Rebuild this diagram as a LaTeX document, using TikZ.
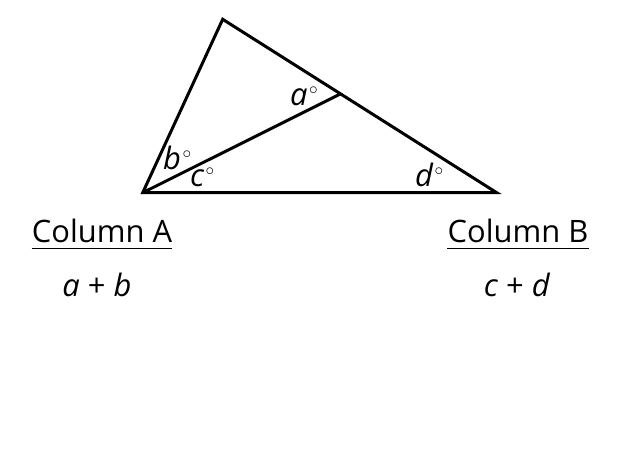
\documentclass[tikz,border=0pt]{standalone}
\usepackage{fontspec}
\setmainfont{Open Sans}
\usetikzlibrary{calc,positioning}

\newcommand{\dg}{\kern0.05em\raisebox{0.36em}{\fontsize{17}{17}\selectfont\upshape$\circ$}}

\begin{document}
\begin{tikzpicture}[x=1bp, y=-1bp,
  side/.style={line width=3bp, line join=miter},
  ang/.style={font=\fontsize{31}{36}\selectfont\itshape, inner sep=0pt, anchor=base west},
  col/.style={font=\fontsize{31}{36}\selectfont, inner sep=0pt, anchor=base},
  expr/.style={font=\fontsize{31}{36}\selectfont, inner sep=0pt, anchor=base},
  uline/.style={line width=1.6bp}
]
\useasboundingbox (0,0) rectangle (620,464);

%--- Triangle ---
\coordinate (L) at (142.7,192.7);
\coordinate (T) at (222.7,19.3);
\coordinate (R) at (496.7,192.7);
\coordinate (M) at ($(T)!0.43!(R)$);
\draw[side] (L) -- (T) -- (R) -- cycle;
\draw[side] (L) -- (M);

%--- Angle labels ---
\node[ang] (angA) at (290,106) {a\dg};
\node[ang] (angB) at (163,170) {b\dg};
\node[ang] (angC) at (190,187) {c\dg};
\node[ang] (angD) at (415,187) {d\dg};

%--- Columns ---
\node[col] (colA) at (102,243) {Column A};
\draw[uline] ([yshift=-5bp]colA.south west) -- ([yshift=-5bp]colA.south east);
\node[expr] (sumA) at (97,297) {\textit{a} + \textit{b}};

\node[col] (colB) at (518,243) {Column B};
\draw[uline] ([yshift=-5bp]colB.south west) -- ([yshift=-5bp]colB.south east);
\node[expr] (sumB) at (517,297) {\textit{c} + \textit{d}};
\end{tikzpicture}
\end{document}
